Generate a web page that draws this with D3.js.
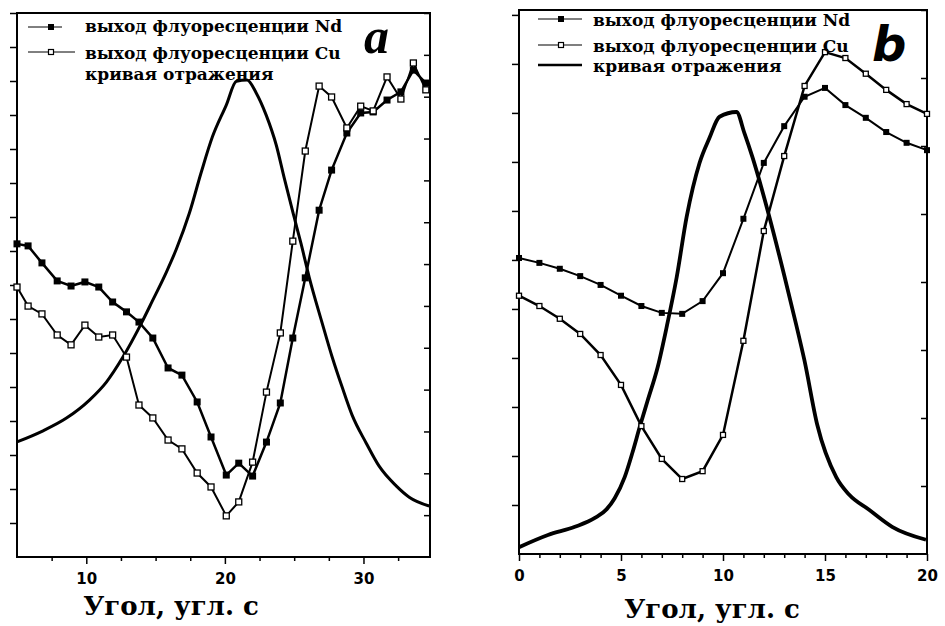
<!DOCTYPE html>
<html>
<head>
<meta charset="utf-8">
<script src="https://cdn.jsdelivr.net/npm/d3@7"></script>
<style>
    body { margin: 0; background: #fff; }
    svg { display: block; }
    .tick text { font-family: "DejaVu Sans"; font-weight: bold; font-size: 15px; fill: #000; }
    .tick line { stroke: #000; stroke-width: 1.5; }
    .legend, .xlabel { font-family: "DejaVu Serif"; font-weight: bold; fill: #000; }
    .tag { font-weight: bold; font-style: italic; fill: #000; }
</style>
</head>
<body>
<script>
// panel a: angle (arc sec) and fluorescence yields
const angleA = [5.0, 5.8, 6.8, 7.9, 8.9, 9.9, 10.9, 11.9, 12.9, 13.8, 14.8, 15.9, 16.9, 18.0, 19.0,
    20.1, 21.0, 22.0, 23.0, 24.0, 24.9, 25.8, 26.8, 27.7, 28.8, 29.8, 30.7, 31.7, 32.7, 33.6, 34.5];
const ndA = [9.21, 9.15, 8.65, 8.12, 7.97, 8.09, 7.94, 7.5, 7.21, 6.91, 6.44, 5.56, 5.35, 4.56, 3.53,
    2.41, 2.76, 2.38, 3.38, 4.53, 6.44, 8.21, 10.2, 11.38, 12.47, 13.06, 13.09, 13.44, 13.68, 14.32, 13.94];
const cuA = [7.94, 7.38, 7.15, 6.53, 6.24, 6.82, 6.47, 6.53, 5.88, 4.47, 4.09, 3.44, 3.18, 2.47, 2.06,
    1.21, 1.62, 2.79, 4.85, 6.59, 9.29, 11.94, 13.85, 13.53, 12.62, 13.26, 13.12, 14.12, 13.47, 14.53, 13.74];
// panel a: reflection curve (right axis)
const reflAngleA = [5.0, 6.84, 8.57, 10.23, 11.45, 12.61, 13.98, 14.77, 15.78, 16.5, 17.44, 18.3, 19.1,
    20.1, 20.83, 21.6, 22.26, 22.98, 23.71, 24.28, 25.0, 25.5, 26.08, 27.02, 27.74, 28.46, 29.18,
    30.2, 31.13, 32.36, 33.3, 34.74];
const reflA = [2.75, 3.01, 3.32, 3.75, 4.18, 4.76, 5.59, 6.12, 6.81, 7.36, 8.22, 9.20, 10.04,
    10.80, 11.37, 11.40, 11.09, 10.56, 9.84, 9.06, 8.12, 7.48, 6.69, 5.59, 4.78, 4.06, 3.39,
    2.72, 2.17, 1.70, 1.43, 1.22];

// panel b
const angleB = [0, 1, 2, 3, 4, 5, 6, 7, 8, 9, 10, 11, 12, 13, 14, 15, 16, 17, 18, 19, 20];
const ndB = [6.04, 5.94, 5.82, 5.67, 5.49, 5.27, 5.06, 4.92, 4.90, 5.16, 5.73, 6.84, 7.98, 8.73,
    9.33, 9.51, 9.16, 8.9, 8.61, 8.39, 8.24];
const cuB = [5.27, 5.06, 4.80, 4.49, 4.06, 3.45, 2.61, 1.94, 1.53, 1.69, 2.43, 4.35, 6.59, 8.12,
    9.55, 10.24, 10.12, 9.8, 9.47, 9.18, 8.98];
const reflAngleB = [0, 1.42, 2.74, 3.72, 4.3, 4.69, 5.18, 5.57, 5.92, 6.31, 6.80, 7.24, 7.73, 8.22,
    8.85, 9.34, 9.83, 10.66, 11.05, 11.44, 12.27, 13.0, 13.59, 13.99, 14.62, 15.55, 16.19, 17.16,
    18.29, 19.95];
const reflB = [0.10, 0.28, 0.40, 0.53, 0.66, 0.82, 1.13, 1.50, 1.87, 2.26, 2.75, 3.34, 4.07, 4.96,
    5.75, 6.12, 6.43, 6.50, 6.19, 5.84, 4.96, 4.10, 3.37, 2.85, 1.90, 1.13, 0.87, 0.65,
    0.40, 0.21];

const legendLabels = ['выход флуоресценции Nd', 'выход флуоресценции Cu', 'кривая отражения'];
const axisTitle = 'Угол, угл. с';

const svg = d3.select('body').append('svg')
    .attr('width', 945)
    .attr('height', 626);

function zip(xs, ys) {
    return xs.map((x, i) => [x, ys[i]]);
}

function drawPanel(p) {
    const x = d3.scaleLinear().domain(p.xDomain).range([p.left, p.right]);
    const yL = d3.scaleLinear().domain(p.yLeft).range([p.bottom, p.top]);
    const yR = d3.scaleLinear().domain(p.yRight).range([p.bottom, p.top]);
    const g = svg.append('g');

    // axes
    g.append('g')
        .attr('transform', `translate(0,${p.bottom})`)
        .call(d3.axisBottom(x).tickValues(p.minorTicks).tickSize(4).tickFormat(''))
        .call(a => a.select('.domain').remove());
    g.append('g')
        .attr('transform', `translate(0,${p.bottom})`)
        .call(d3.axisBottom(x).tickValues(p.majorTicks).tickSize(7).tickPadding(9).tickFormat(d3.format('d')))
        .call(a => a.select('.domain').remove());
    g.append('g')
        .attr('transform', `translate(${p.left},0)`)
        .call(d3.axisLeft(yL).tickValues(d3.range(p.yLeft[0] + 1, Math.floor(p.yLeft[1]) + 1)).tickSize(7).tickFormat(''))
        .call(a => a.select('.domain').remove());
    g.append('g')
        .attr('transform', `translate(${p.right},0)`)
        .call(d3.axisRight(yR).tickValues(d3.range(p.yRight[0] + 1, Math.floor(p.yRight[1]) + 1)).tickSize(-6).tickFormat(''))
        .call(a => a.select('.domain').remove());

    g.append('rect')
        .attr('x', p.left)
        .attr('y', p.top)
        .attr('width', p.right - p.left)
        .attr('height', p.bottom - p.top)
        .attr('fill', 'none')
        .attr('stroke', '#000')
        .attr('stroke-width', 2);

    const lineL = d3.line().x(d => x(d[0])).y(d => yL(d[1]));
    const lineR = d3.line().x(d => x(d[0])).y(d => yR(d[1])).curve(d3.curveMonotoneX);

    g.append('path')
        .attr('d', lineR(zip(p.reflX, p.refl)))
        .attr('fill', 'none')
        .attr('stroke', '#000')
        .attr('stroke-width', p.reflWidth)
        .attr('stroke-linejoin', 'round');

    g.append('path')
        .attr('d', lineL(zip(p.angle, p.nd)))
        .attr('fill', 'none')
        .attr('stroke', '#000')
        .attr('stroke-width', p.ndWidth);

    g.append('path')
        .attr('d', lineL(zip(p.angle, p.cu)))
        .attr('fill', 'none')
        .attr('stroke', '#000')
        .attr('stroke-width', p.cuWidth);

    const ms = p.marker;
    g.append('g').selectAll('rect')
        .data(zip(p.angle, p.nd))
        .join('rect')
        .attr('x', d => x(d[0]) - ms / 2)
        .attr('y', d => yL(d[1]) - ms / 2)
        .attr('width', ms)
        .attr('height', ms)
        .attr('fill', '#000');

    g.append('g').selectAll('rect')
        .data(zip(p.angle, p.cu))
        .join('rect')
        .attr('x', d => x(d[0]) - (ms - 1) / 2)
        .attr('y', d => yL(d[1]) - (ms - 1) / 2)
        .attr('width', ms - 1)
        .attr('height', ms - 1)
        .attr('fill', '#fff')
        .attr('stroke', '#000')
        .attr('stroke-width', 1.3);

    // legend
    const lg = p.legend;
    lg.rows.forEach((row, i) => {
        g.append('text')
            .attr('class', 'legend')
            .attr('x', lg.textX)
            .attr('y', row.base)
            .attr('font-size', lg.fontSize)
            .text(legendLabels[i]);
        if (row.sample) {
            g.append('line')
                .attr('x1', lg.x1).attr('x2', row.sample.x2 || lg.x2)
                .attr('y1', row.line).attr('y2', row.line)
                .attr('stroke', '#000')
                .attr('stroke-width', row.sample.width);
            if (row.sample.marker === 'filled') {
                g.append('rect')
                    .attr('x', lg.mx - 3).attr('y', row.line - 3)
                    .attr('width', 6).attr('height', 6)
                    .attr('fill', '#000');
            } else if (row.sample.marker === 'open') {
                g.append('rect')
                    .attr('x', lg.mx - 2.5).attr('y', row.line - 2.5)
                    .attr('width', 5).attr('height', 5)
                    .attr('fill', '#fff')
                    .attr('stroke', '#000')
                    .attr('stroke-width', 1.2);
            }
        }
    });

    g.append('text')
        .attr('class', 'tag')
        .attr('x', p.tag.x)
        .attr('y', p.tag.y)
        .attr('font-family', p.tag.font)
        .attr('font-size', p.tag.size)
        .text(p.tag.text);

    g.append('text')
        .attr('class', 'xlabel')
        .attr('x', p.title.x)
        .attr('y', p.title.y)
        .attr('text-anchor', 'middle')
        .attr('font-size', 26)
        .text(axisTitle);
}

drawPanel({
    left: 17, right: 430, top: 13, bottom: 557,
    xDomain: [5, 34.8], yLeft: [0, 16], yRight: [0, 13],
    majorTicks: [10, 20, 30],
    minorTicks: [7.5, 12.5, 15, 17.5, 22.5, 25, 27.5, 32.5],
    angle: angleA, nd: ndA, cu: cuA, reflX: reflAngleA, refl: reflA,
    reflWidth: 3, ndWidth: 2.5, cuWidth: 2, marker: 7,
    legend: {
        textX: 85, x1: 28, x2: 75, mx: 51, fontSize: 17,
        rows: [
            { base: 32, line: 27, sample: { width: 1, marker: 'filled', x2: 62 } },
            { base: 59, line: 52, sample: { width: 1, marker: 'open' } },
            { base: 80 }
        ]
    },
    tag: { x: 364, y: 53, size: 50, text: 'a', font: '"Liberation Serif"' },
    title: { x: 171, y: 615 }
});

drawPanel({
    left: 519, right: 927, top: 10, bottom: 554,
    xDomain: [0, 20], yLeft: [0, 11.1], yRight: [0, 8],
    majorTicks: [0, 5, 10, 15, 20],
    minorTicks: [1, 2, 3, 4, 6, 7, 8, 9, 11, 12, 13, 14, 16, 17, 18, 19],
    angle: angleB, nd: ndB, cu: cuB, reflX: reflAngleB, refl: reflB,
    reflWidth: 3.8, ndWidth: 2, cuWidth: 2.5, marker: 6,
    legend: {
        textX: 593, x1: 538, x2: 582, mx: 561, fontSize: 17,
        rows: [
            { base: 26, line: 19, sample: { width: 1.2, marker: 'filled' } },
            { base: 52, line: 45, sample: { width: 1.2, marker: 'open' } },
            { base: 72, line: 65, sample: { width: 2.5 } }
        ]
    },
    tag: { x: 872, y: 61, size: 48, text: 'b', font: '"DejaVu Sans"' },
    title: { x: 712, y: 618 }
});
</script>
</body>
</html>
